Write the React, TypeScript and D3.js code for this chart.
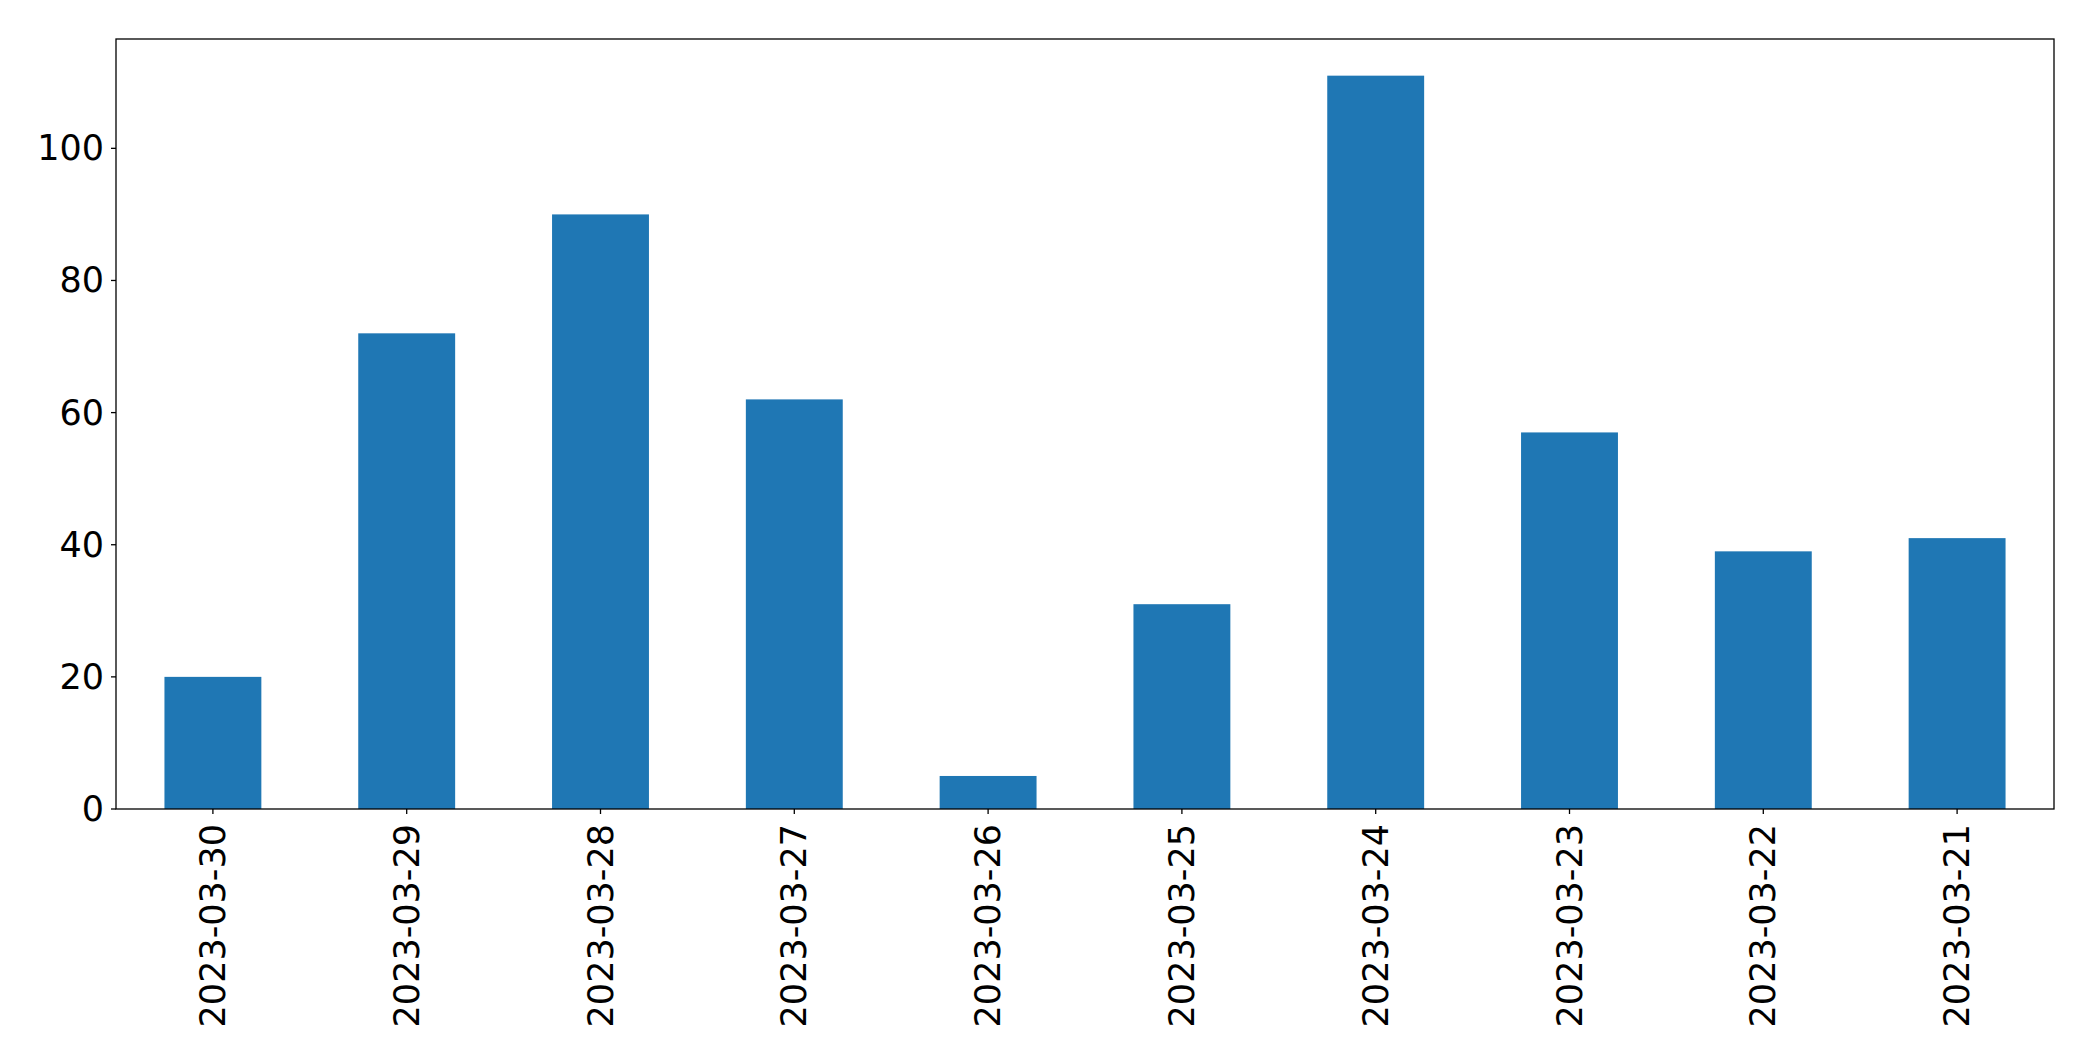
import React from "react";
import * as d3 from "d3";

const categories = ["2023-03-30","2023-03-29","2023-03-28","2023-03-27","2023-03-26","2023-03-25","2023-03-24","2023-03-23","2023-03-22","2023-03-21"];
const values = [20, 72, 90, 62, 5, 31, 111, 57, 39, 41];
const yTicks = [0, 20, 40, 60, 80, 100];

const W = 2093, H = 1061;
const M = { left: 116, right: 2054, top: 39, bottom: 809 };
const FONT = "'DejaVu Sans', sans-serif";
const FS = 35;

export default function App() {
  const x = d3.scaleBand<string>().domain(categories).range([M.left, M.right]).paddingInner(0.5).paddingOuter(0.25);
  const yMax = d3.max(values)! * 1.05;
  const y = d3.scaleLinear().domain([0, yMax]).range([M.bottom, M.top]);
  const tickLen = 5;
  return (
    <svg width={W} height={H} style={{ position: "absolute", left: 0, top: 0, background: "#fff" }}>
      <rect x={0} y={0} width={W} height={H} fill="#fff" />
      {values.map((v, i) => (
        <rect key={i} x={x(categories[i])!} y={y(v)} width={x.bandwidth()} height={y(0) - y(v)} fill="#1f77b4" />
      ))}
      <rect x={M.left} y={M.top} width={M.right - M.left} height={M.bottom - M.top} fill="none" stroke="#000" strokeWidth={1.3} />
      {yTicks.map((t) => (
        <g key={t}>
          <line x1={M.left - tickLen} x2={M.left} y1={y(t)} y2={y(t)} stroke="#000" strokeWidth={1.3} />
          <text x={M.left - tickLen - 7} y={y(t)} textAnchor="end" dominantBaseline="central" fontFamily={FONT} fontSize={FS} fill="#000">{t}</text>
        </g>
      ))}
      {categories.map((c) => {
        const cx = x(c)! + x.bandwidth() / 2;
        const ty = M.bottom + tickLen + 10;
        return (
          <g key={c}>
            <line x1={cx} x2={cx} y1={M.bottom} y2={M.bottom + tickLen} stroke="#000" strokeWidth={1.3} />
            <text transform={`translate(${cx},${ty}) rotate(-90)`} textAnchor="end" dominantBaseline="central" fontFamily={FONT} fontSize={FS} fill="#000">{c}</text>
          </g>
        );
      })}
    </svg>
  );
}
